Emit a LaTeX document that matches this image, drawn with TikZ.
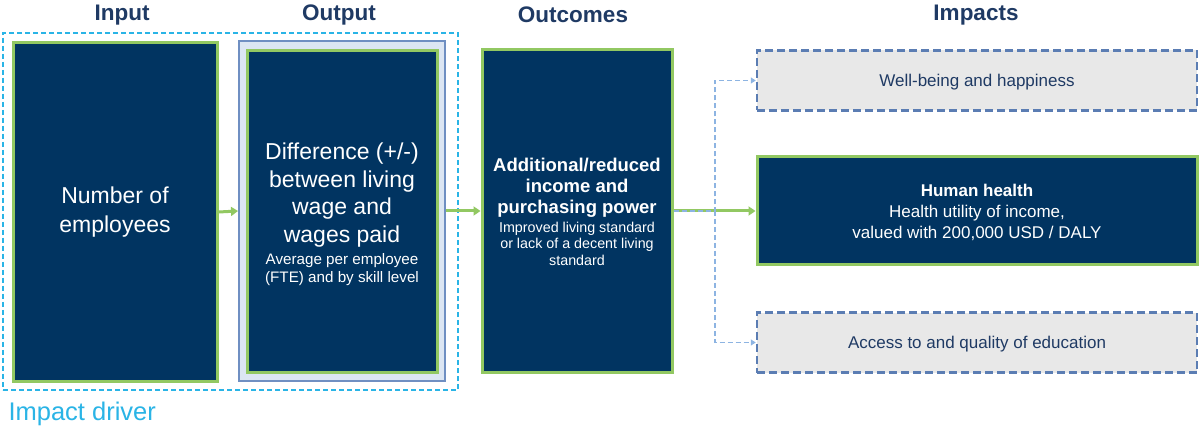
\documentclass[tikz,border=0pt]{standalone}
\usepackage{fontspec}
\setmainfont{Liberation Sans}
\usetikzlibrary{arrows.meta}
\definecolor{navy}{HTML}{013461}
\definecolor{lgreen}{HTML}{92C862}
\definecolor{ttl}{HTML}{1F3A64}
\definecolor{cyanx}{HTML}{2AB4E6}
\definecolor{obord}{HTML}{6F8FC2}
\definecolor{ofill}{HTML}{DCE6F3}
\definecolor{gfill}{HTML}{E8E8E8}
\definecolor{gbord}{HTML}{5B7DB3}
\definecolor{dblue}{HTML}{8DB4E2}
\newcommand\myBig{\fontsize{23}{18}\selectfont}
\newcommand\mySmall{\fontsize{15.2}{18}\selectfont}
\newcommand\myBold{\fontsize{18.5}{16.7}\selectfont\bfseries}
\newcommand\myMid{\fontsize{14.3}{16.7}\selectfont}
\newcommand\noLS{\lineskiplimit-100pt\lineskip0pt\relax}
\begin{document}
\begin{tikzpicture}[x=1pt,y=-1pt,
  navybox/.style={draw=lgreen,line width=3pt,fill=navy,text=white,align=center,inner sep=0pt},
  greybox/.style={draw=gbord,line width=2.5pt,dash pattern=on 8pt off 4pt,fill=gfill,text=ttl,align=center,inner sep=0pt,minimum width=440pt,minimum height=60pt,text depth=0pt,font=\fontsize{17}{20}\selectfont},
  title/.style={text=ttl,font=\fontsize{22.5}{26}\selectfont\bfseries},
  garrow/.style={draw=lgreen,line width=3pt,-{Triangle[width=9pt,length=7pt]}},
  darrow/.style={draw=dblue,line width=1.5pt,dash pattern=on 5pt off 3pt,-{Triangle[width=6pt,length=5pt]}}
]
\useasboundingbox (0,0) rectangle (1199,430);
\fill[white] (0,0) rectangle (1199,430);
% titles
\node[title] (tin) at (122,15) {Input};
\node[title] (tout) at (339,15) {Output};
\node[title] (toc) at (573,15) {Outcomes};
\node[title] (timp) at (976,15) {Impacts};
% impact driver
\node[draw=cyanx,line width=1.8pt,dash pattern=on 5pt off 3pt,minimum width=455pt,minimum height=357pt,inner sep=0pt] (drv) at (230.5,211.5) {};
\node[text=cyanx,anchor=west,font=\fontsize{25.5}{30}\selectfont] (drvl) at (5,414) {Impact driver};
% input
\node[navybox,minimum width=204pt,minimum height=338pt,font=\fontsize{23}{29}\selectfont] (inp) at (115,212) {Number of\\employees};
% output
\node[draw=obord,line width=2pt,fill=ofill,minimum width=206pt,minimum height=340pt,inner sep=0pt] (outo) at (342,211) {};
\node[navybox,minimum width=190pt,minimum height=321pt] (outi) at (342,211.5) {};
\node[text=white,align=center,inner sep=0pt,font=\fontsize{15.2}{18}\selectfont\noLS] (outt) at (342,214) {\myBig Difference (+/-)\\[9.7pt]\myBig between living\\[9.7pt]\myBig wage and\\[9.7pt]\myBig wages paid\\[3.5pt]\mySmall Average per employee\\\mySmall (FTE) and by skill level};
% outcomes
\node[navybox,minimum width=190pt,minimum height=322pt] (oc) at (577,211) {};
\node[text=white,align=center,inner sep=0pt,font=\fontsize{14.3}{16.7}\selectfont] (oct) at (577,212) {\myBold Additional/reduced\\[4pt]\myBold income and\\[4pt]\myBold purchasing power\\[2.5pt]\myMid Improved living standard\\\myMid or lack of a decent living\\\myMid standard};
% impacts
\node[greybox] (wb) at (977,80.5) {Well-being and happiness};
\node[navybox,minimum width=440pt,minimum height=108pt,text depth=0pt,font=\fontsize{17}{21}\selectfont] (hh) at (977,211) {\textbf{Human health}\\Health utility of income,\\valued with 200,000 USD / DALY};
\node[greybox] (ac) at (977,342.5) {Access to and quality of education};
% arrows
\draw[garrow] (inp.east) -- (outo.west);
\draw[garrow] (outo.east) -- (oc.west);
\draw[garrow] (oc.east) -- (hh.west);
\coordinate (jn) at (715,211);
\draw[darrow] (oc.east) -- (jn) |- (wb.west);
\draw[darrow] (jn) |- (ac.west);
\end{tikzpicture}
\end{document}
